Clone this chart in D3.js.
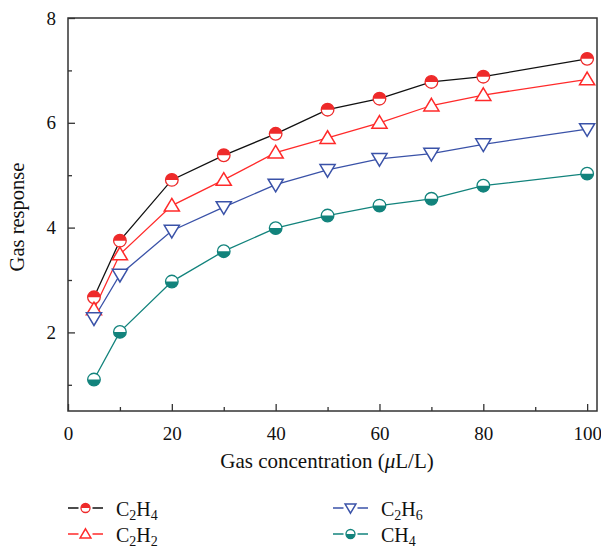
<!DOCTYPE html>
<html>
<head>
<meta charset="utf-8">
<script src="https://cdn.jsdelivr.net/npm/d3@7"></script>
<style>
  body { margin: 0; background: #fff; }
  svg { font-family: "Liberation Serif", "DejaVu Serif", serif; }
</style>
</head>
<body>
<div id="chart"></div>
<script>
// data
var concentration = [5, 10, 20, 30, 40, 50, 60, 70, 80, 100];
var c2h4 = [2.67, 3.75, 4.91, 5.38, 5.79, 6.25, 6.46, 6.78, 6.88, 7.22];
var c2h2 = [2.44, 3.49, 4.42, 4.91, 5.43, 5.71, 6.00, 6.33, 6.53, 6.83];
var c2h6 = [2.27, 3.10, 3.94, 4.39, 4.82, 5.10, 5.31, 5.41, 5.59, 5.88];
var ch4  = [1.10, 2.01, 2.97, 3.55, 3.99, 4.23, 4.42, 4.55, 4.80, 5.03];
var xTicks = [0, 20, 40, 60, 80, 100];
var yTicks = [2, 4, 6, 8];

var series = [
  {name: "C2H4", sub: ["C", "2", "H", "4"], values: c2h4, line: "#111111", mark: "#ee2a2a", symbol: "halfTop"},
  {name: "C2H2", sub: ["C", "2", "H", "2"], values: c2h2, line: "#ff2a2a", mark: "#ff2a2a", symbol: "triUp"},
  {name: "C2H6", sub: ["C", "2", "H", "6"], values: c2h6, line: "#3a52a8", mark: "#3a52a8", symbol: "triDown"},
  {name: "CH4",  sub: ["CH", "", "", "4"], values: ch4, line: "#12837c", mark: "#12837c", symbol: "halfBottom"}
];

var W = 601, H = 550;
var margin = {top: 18, right: 4, bottom: 139, left: 68};
var width = W - margin.left - margin.right,
    height = H - margin.top - margin.bottom;

var svg = d3.select("#chart").append("svg").attr("width", W).attr("height", H);
var g = svg.append("g").attr("transform", "translate(" + margin.left + "," + margin.top + ")");

var x = d3.scaleLinear().domain([0, 101.9]).range([0, width]);
var y = d3.scaleLinear().domain([0.5, 8]).range([height, 0]);

// frame
g.append("rect").attr("width", width).attr("height", height)
  .attr("fill", "none").attr("stroke", "#333").attr("stroke-width", 1.5);

// axes, ticks inward
g.append("g").attr("transform", "translate(0," + height + ")")
  .call(d3.axisBottom(x).tickValues(xTicks).tickSize(-7).tickPadding(16).tickFormat(d3.format("d")));
g.append("g").attr("transform", "translate(0," + height + ")")
  .call(d3.axisBottom(x).tickValues([10, 30, 50, 70, 90]).tickSize(-4).tickFormat(""));
g.append("g")
  .call(d3.axisLeft(y).tickValues(yTicks).tickSize(-7).tickPadding(12));
g.append("g")
  .call(d3.axisLeft(y).tickValues([1, 3, 5, 7]).tickSize(-4).tickFormat(""));
g.selectAll(".domain").remove();
g.selectAll(".tick line").attr("stroke", "#333").attr("stroke-width", 1.3);
g.selectAll(".tick text").attr("font-size", 19).attr("fill", "#111")
  .attr("font-family", "Liberation Serif, DejaVu Serif, serif");

// axis titles
svg.append("text").attr("x", 327).attr("y", 468).attr("text-anchor", "middle")
  .attr("font-size", 21).attr("fill", "#111")
  .html('Gas concentration (<tspan font-style="italic">\u03bc</tspan>L/L)');
svg.append("text").attr("transform", "translate(24,217) rotate(-90)")
  .attr("text-anchor", "middle").attr("font-size", 20.5).attr("fill", "#111")
  .text("Gas response");

function drawMarker(sel, s, r) {
  if (s.symbol === "triUp" || s.symbol === "triDown") {
    var h = r * 1.15, w = r * 1.2;
    var p = s.symbol === "triUp"
      ? [[0, -h], [w, h * 0.75], [-w, h * 0.75]]
      : [[0, h], [w, -h * 0.75], [-w, -h * 0.75]];
    sel.append("path").attr("d", "M" + p.join("L") + "Z")
      .attr("fill", "#fff").attr("stroke", s.mark).attr("stroke-width", 1.5);
  } else {
    sel.append("circle").attr("r", r).attr("fill", "#fff")
      .attr("stroke", s.mark).attr("stroke-width", 1.3);
    var arc = s.symbol === "halfTop"
      ? "M" + (-r) + ",0A" + r + "," + r + " 0 0 1 " + r + ",0Z"
      : "M" + (-r) + ",0A" + r + "," + r + " 0 0 0 " + r + ",0Z";
    sel.append("path").attr("d", arc).attr("fill", s.mark);
  }
}

var line = d3.line().x(function(d) { return x(d[0]); }).y(function(d) { return y(d[1]); });

series.forEach(function(s) {
  var pts = concentration.map(function(c, i) { return [c, s.values[i]]; });
  g.append("path").datum(pts).attr("d", line)
    .attr("fill", "none").attr("stroke", s.line).attr("stroke-width", 1.3);
});
series.forEach(function(s) {
  var pts = concentration.map(function(c, i) { return [c, s.values[i]]; });
  g.selectAll(null).data(pts).enter().append("g")
    .attr("transform", function(d) { return "translate(" + x(d[0]) + "," + y(d[1]) + ")"; })
    .each(function() { drawMarker(d3.select(this), s, 6.3); });
});

// legend
var legendPos = [[68, 508], [68, 534], [333, 508], [333, 534]];
series.forEach(function(s, i) {
  var lg = svg.append("g").attr("transform", "translate(" + legendPos[i][0] + "," + legendPos[i][1] + ")");
  lg.append("line").attr("x1", 0).attr("x2", 35).attr("stroke", s.line).attr("stroke-width", 1.5);
  var m = lg.append("g").attr("transform", "translate(17.5,0)");
  m.append("rect").attr("x", -7).attr("y", -6).attr("width", 14).attr("height", 12).attr("fill", "#fff");
  drawMarker(m, s, 4.5);
  var t = lg.append("text").attr("x", 48).attr("y", 8).attr("font-size", 20).attr("fill", "#111");
  t.append("tspan").text(s.sub[0]);
  if (s.sub[1]) t.append("tspan").attr("font-size", 14).attr("dy", 4).text(s.sub[1]);
  if (s.sub[2]) t.append("tspan").attr("dy", -4).text(s.sub[2]);
  t.append("tspan").attr("font-size", 14).attr("dy", 4).text(s.sub[3]);
});
</script>
</body>
</html>
